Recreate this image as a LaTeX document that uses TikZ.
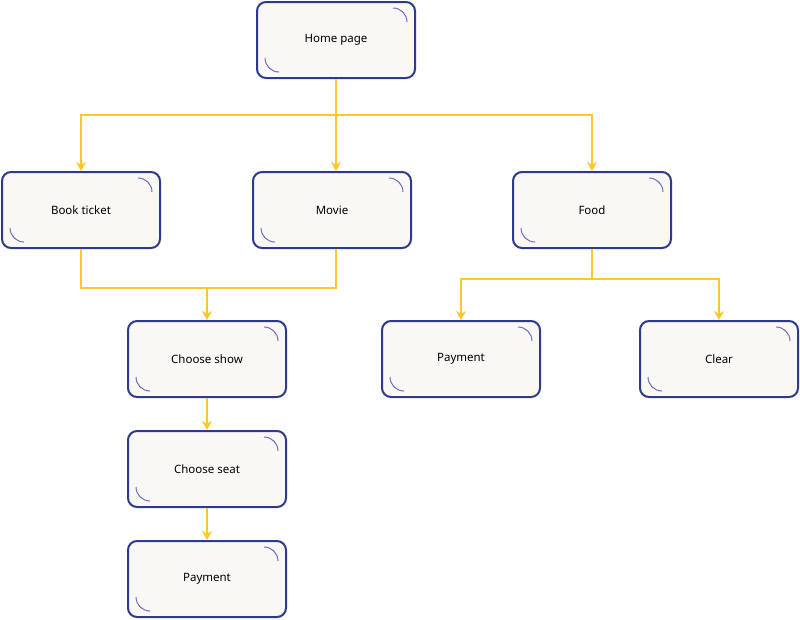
\documentclass[tikz,border=0pt]{standalone}
\usepackage{fontspec}
\setmainfont{Noto Sans}
\usetikzlibrary{arrows.meta}
\definecolor{boxline}{HTML}{2E3A8C}
\definecolor{boxfill}{HTML}{FAF8F5}
\definecolor{arcline}{HTML}{6E6AC8}
\definecolor{linkline}{HTML}{FFC72C}
\tikzset{
    screen/.style = {draw = boxline, line width = 2pt, fill = boxfill,
        rounded corners = 9pt, minimum width = 158pt, minimum height = 76pt,
        inner sep = 0pt, font = \fontsize{11.5pt}{13pt}\selectfont,
        path picture = {
            \draw [arcline, line width = 1pt]
            ([shift = {(-22pt,-6pt)}]path picture bounding box.north east)
            arc [start angle = 90, end angle = 0, radius = 14pt]
            ([shift = {(8pt,20pt)}]path picture bounding box.south west)
            arc [start angle = 180, end angle = 270, radius = 14pt];
        }},
    link/.style = {draw = linkline, line width = 2.5pt},
    linkarrow/.style = {link, -{Stealth[length = 9pt, width = 10pt]}}
}
\begin{document}
\begin{tikzpicture}[x = 1pt, y = -1pt]
    \useasboundingbox (0,0) rectangle (800,619);
    %% screens
    \node [screen] (home) at (336,40) {Home page};
    \node [screen] (book) at (81,210) {Book ticket};
    \node [screen] (movie) at (332,210) {Movie};
    \node [screen] (food) at (592,210) {Food};
    \node [screen] (show) at (207,359) {Choose show};
    \node [screen] (seat) at (207,469) {Choose seat};
    \node [screen] (pay) at (207,579) {Payment};
    \node [screen] (foodpay) at (461,359) {Payment};
    \node [screen] (clear) at (719,359) {Clear};
    %% links from home
    \coordinate (homehub) at (336,115);
    \draw [link] (home.south) -- (homehub);
    \draw [linkarrow] (homehub) -| (book.north);
    \draw [linkarrow] (homehub) -- (homehub |- movie.north);
    \draw [linkarrow] (homehub) -| (food.north);
    %% links to show
    \coordinate (showhub) at (207,288);
    \draw [link] (book.south) |- (showhub) -| (336,249);
    \draw [linkarrow] (showhub) -- (show.north);
    \draw [linkarrow] (show.south) -- (seat.north);
    \draw [linkarrow] (seat.south) -- (pay.north);
    %% links from food
    \coordinate (foodhub) at (592,279);
    \draw [link] (food.south) -- (foodhub);
    \draw [linkarrow] (foodhub) -| (foodpay.north);
    \draw [linkarrow] (foodhub) -| (clear.north);
\end{tikzpicture}
\end{document}
